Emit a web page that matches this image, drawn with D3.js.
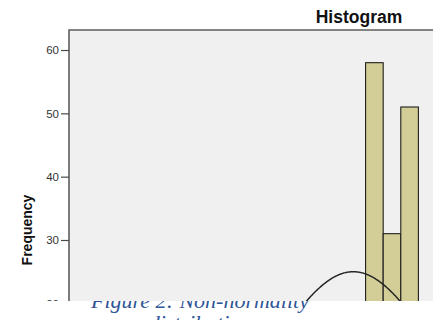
<!DOCTYPE html>
<html>
<head>
<meta charset="utf-8">
<script src="https://cdn.jsdelivr.net/npm/d3@7"></script>
<style>
  html, body { margin: 0; padding: 0; background: #fff; }
  svg { display: block; }
</style>
</head>
<body>
<svg id="chart" width="433" height="320"></svg>
<script>
// Histogram bins (lower / upper edge in bin units) and their frequencies
const binLower = [17, 18, 19];
const binUpper = [18, 19, 20];
const binCounts = [58, 31, 51];

// Fitted normal curve parameters
const fitMean = 16.3;
const fitStdDev = 4.15;
const fitN = 260;

// Frequency axis ticks
const yTicks = [0, 10, 20, 30, 40, 50, 60];

const chartTitle = "Histogram";
const yTitle = "Frequency";
const captionLines = ["Figure 2: Non-normality", "distribution"];

(function draw() {
  const svg = d3.select("#chart");
  const W = 433;

  // Plot frame
  const frameLeft = 69, frameTop = 30, frameRight = 436, frameBottom = 430;
  const visibleBottom = 301;

  const x = d3.scaleLinear().domain([0.15, 21.0]).range([frameLeft, frameRight]);
  const y = d3.scaleLinear().domain([0, 63.16]).range([frameBottom, frameTop]);

  // Caption sits below the chart panel
  const caption = svg.append("g")
    .attr("font-family", "'Liberation Serif', 'Times New Roman', serif")
    .attr("font-style", "italic")
    .attr("font-size", 22)
    .attr("fill", "#2f5597")
    .attr("text-anchor", "middle");
  caption.selectAll("text").data(captionLines).join("text")
    .attr("x", 200)
    .attr("y", (d, i) => 308 + i * 22)
    .text(d => d);

  // Chart panel, cut off at the bottom edge
  svg.append("defs").append("clipPath").attr("id", "panelClip")
    .append("rect").attr("x", 0).attr("y", 0).attr("width", W).attr("height", visibleBottom);

  const panel = svg.append("g").attr("clip-path", "url(#panelClip)");
  panel.append("rect").attr("x", 0).attr("y", 0).attr("width", W).attr("height", visibleBottom).attr("fill", "#fff");

  panel.append("rect")
    .attr("x", frameLeft).attr("y", frameTop)
    .attr("width", frameRight - frameLeft).attr("height", frameBottom - frameTop)
    .attr("fill", "#f0f0f0");

  // Bars
  const bins = binCounts.map((c, i) => ({ x0: binLower[i], x1: binUpper[i], count: c }));
  panel.append("g").selectAll("rect").data(bins).join("rect")
    .attr("x", d => x(d.x0))
    .attr("y", d => y(d.count))
    .attr("width", d => x(d.x1) - x(d.x0))
    .attr("height", d => y(0) - y(d.count))
    .attr("fill", "#d3ce97")
    .attr("stroke", "#1e1e1e")
    .attr("stroke-width", 1.1);

  // Normal curve scaled to bin width 1
  const pdf = v => fitN / (fitStdDev * Math.sqrt(2 * Math.PI)) * Math.exp(-((v - fitMean) ** 2) / (2 * fitStdDev ** 2));
  const curveX = d3.range(0.15, 21.0, 0.05);
  panel.append("path")
    .datum(curveX)
    .attr("fill", "none")
    .attr("stroke", "#262626")
    .attr("stroke-width", 1.5)
    .attr("d", d3.line().x(d => x(d)).y(d => y(pdf(d))));

  // Frame lines
  panel.append("path")
    .attr("d", `M${frameLeft},${frameBottom}V${frameTop}H${W + 5}`)
    .attr("fill", "none")
    .attr("stroke", "#5e5e5e")
    .attr("stroke-width", 1.6);

  // Y axis
  const yAxis = panel.append("g")
    .attr("transform", `translate(${frameLeft},0)`)
    .call(d3.axisLeft(y).tickValues(yTicks).tickSize(8).tickPadding(2).tickFormat(d3.format("d")));
  yAxis.select(".domain").remove();
  yAxis.selectAll(".tick line").attr("stroke", "#4a4a4a").attr("stroke-width", 1.2);
  yAxis.selectAll(".tick text")
    .attr("font-family", "'Liberation Sans', Arial, sans-serif")
    .attr("font-size", 11.5)
    .attr("fill", "#333");

  // Axis title
  panel.append("text")
    .attr("transform", "translate(32,230) rotate(-90)")
    .attr("text-anchor", "middle")
    .attr("font-family", "'Liberation Sans', Arial, sans-serif")
    .attr("font-weight", "bold")
    .attr("font-size", 14)
    .attr("fill", "#111")
    .text(yTitle);

  // Chart title
  panel.append("text")
    .attr("x", 359).attr("y", 23)
    .attr("text-anchor", "middle")
    .attr("font-family", "'Liberation Sans', Arial, sans-serif")
    .attr("font-weight", "bold")
    .attr("font-size", 17.5)
    .attr("fill", "#111")
    .text(chartTitle);
})();
</script>
</body>
</html>
